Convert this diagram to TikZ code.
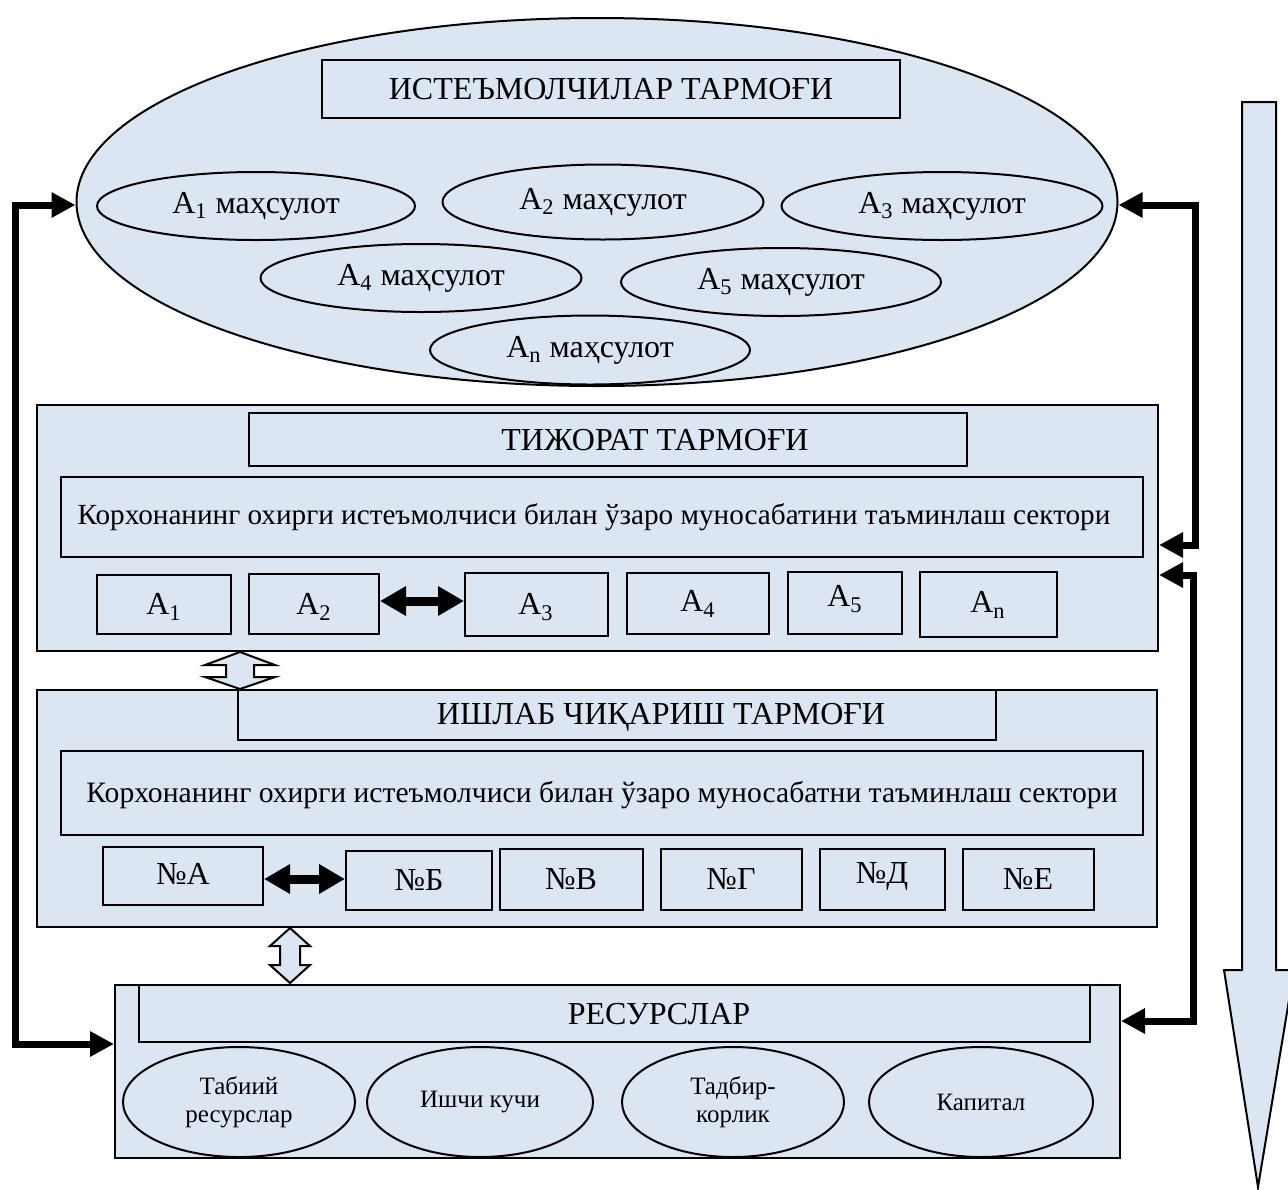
\documentclass[tikz,border=0pt]{standalone}
\usepackage{fontspec}
\setmainfont{Liberation Serif}
\usetikzlibrary{arrows.meta,shapes.geometric,fit}
\definecolor{lblue}{HTML}{DCE6F2}
\tikzset{
 base/.style={draw, fill=lblue, line width=1pt, inner sep=0pt},
 rbox/.style={base, rectangle},
 ell/.style={base, ellipse},
 txt/.style={font=\fontsize{16}{19}\selectfont, inner sep=0pt},
 subtxt/.style={font=\fontsize{#1}{18}\selectfont, inner sep=0pt},
 smalltxt/.style={font=\fontsize{12.5}{14}\selectfont, align=center},
 conn/.style={line width=3.5pt, line join=miter, {Triangle[length=12pt,width=12pt]}-{Triangle[length=12pt,width=12pt]}},
 dbl/.style={line width=4.5pt, {Triangle[length=13pt,width=14pt]}-{Triangle[length=13pt,width=14pt]}},
 hollow/.style={draw, fill=lblue, line width=1pt, line join=miter}
}
\begin{document}
\begin{tikzpicture}[x=0.5pt,y=-0.5pt]
\useasboundingbox (0,0) rectangle (1288,1189);

% big down arrow
\draw[hollow] (1242,102) -- (1276,102) -- (1276,970) -- (1294,970) -- (1258,1187) -- (1224,970) -- (1242,970) -- cycle;

% consumers ellipse
\node[ell, minimum width=520.5pt, minimum height=184pt] (cons) at (597,202) {};
\node[rbox, fit={(322,60)(900,118)}] (consT) {};
\node[txt] (consTl) at (consT.center) {ИСТЕЪМОЛЧИЛАР ТАРМОҒИ};
\node[ell, txt, minimum width=159pt, minimum height=34pt] (e1) at (256,206) {A\textsubscript{1} маҳсулот};
\node[ell, txt, minimum width=160.5pt, minimum height=37.5pt] (e2) at (603,202) {A\textsubscript{2} маҳсулот};
\node[ell, txt, minimum width=160.5pt, minimum height=34pt] (e3) at (942,206) {A\textsubscript{3} маҳсулот};
\node[ell, txt, minimum width=160.5pt, minimum height=34pt] (e4) at (421,278) {A\textsubscript{4} маҳсулот};
\node[ell, txt, minimum width=160pt, minimum height=34pt] (e5) at (781,282) {A\textsubscript{5} маҳсулот};
\node[ell, txt, minimum width=160pt, minimum height=34.5pt] (en) at (590,350) {A\textsubscript{n} маҳсулот};

% trade network
\node[rbox, fit={(37,405)(1158,651)}] (tij) {};
\node[rbox, fit={(249,413)(967,466)}] (tijT) {};
\node[txt] (tijTl) at (655,440) {ТИЖОРАТ ТАРМОҒИ};
\node[rbox, fit={(61,477)(1143,557)}] (tijS) {};
\node[subtxt=14.6] (tijSl) at (594,517) {Корхонанинг охирги истеъмолчиси билан ўзаро муносабатини таъминлаш сектори};
\node[rbox, fit={(97,575)(231,634)}] (a1) {};
\node[txt] at (164,607) {A\textsubscript{1}};
\node[rbox, fit={(249,574)(379,634)}] (a2) {};
\node[txt] at (314,607) {A\textsubscript{2}};
\node[rbox, fit={(465,573)(608,636)}] (a3) {};
\node[txt] at (536,607) {A\textsubscript{3}};
\node[rbox, fit={(627,573)(769,634)}] (a4) {};
\node[txt] at (698,604) {A\textsubscript{4}};
\node[rbox, fit={(788,572)(902,634)}] (a5) {};
\node[txt] at (845,599) {A\textsubscript{5}};
\node[rbox, fit={(920,572)(1057,637)}] (an) {};
\node[txt] at (988,605) {A\textsubscript{n}};
\draw[dbl] (a2.east |- 0,601) -- (a3.west |- 0,601);

% production network
\node[rbox, fit={(37,690)(1157,927)}] (ish) {};
\node[rbox, fit={(238,690)(996,740)}] (ishT) {};
\node[txt] (ishTl) at (661,717) {ИШЛАБ ЧИҚАРИШ ТАРМОҒИ};
\node[rbox, fit={(61,751)(1143,835)}] (ishS) {};
\node[subtxt=14.8] (ishSl) at (602,795) {Корхонанинг охирги истеъмолчиси билан ўзаро муносабатни таъминлаш сектори};
\node[rbox, fit={(103,847)(263,905)}] (nA) {};
\node[txt] at (183,874) {№A};
\node[rbox, fit={(346,851)(492,910)}] (nB) {};
\node[txt] at (419,880) {№Б};
\node[rbox, fit={(500,849)(643,910)}] (nV) {};
\node[txt] at (571,879) {№В};
\node[rbox, fit={(661,849)(802,910)}] (nG) {};
\node[txt] at (731,879) {№Г};
\node[rbox, fit={(820,849)(945,910)}] (nD) {};
\node[txt] at (882,876) {№Д};
\node[rbox, fit={(963,849)(1094,910)}] (nE) {};
\node[txt] at (1028,879) {№Е};
\draw[dbl] (nA.east |- 0,879) -- (nB.west |- 0,879);

% resources
\node[rbox, fit={(115,985)(1120,1158)}] (res) {};
\node[rbox, fit={(139,985)(1090,1042)}] (resT) {};
\node[txt] (resTl) at (659,1014) {РЕСУРСЛАР};
\node[ell, smalltxt, minimum width=116pt, minimum height=55pt] (r1) at (239,1102) {Табиий\\ресурслар};
\node[ell, smalltxt, minimum width=113pt, minimum height=55pt] (r2) at (480,1102) {Ишчи кучи};
\node[ell, smalltxt, minimum width=111pt, minimum height=55pt] (r3) at (733,1102) {Тадбир-\\корлик};
\node[ell, smalltxt, minimum width=112pt, minimum height=55pt] (r4) at (981,1102) {Капитал};

% hollow double arrows
\draw[hollow] (240,652) -- (275,665) -- (254,665) -- (254,677) -- (275,677) -- (240,689)
  -- (205,677) -- (226,677) -- (226,665) -- (205,665) -- cycle;
\draw[hollow] (290,928) -- (310,946) -- (300,946) -- (300,965) -- (310,965) -- (290,983)
  -- (270,965) -- (280,965) -- (280,946) -- (270,946) -- cycle;

% connectors
\coordinate (L1) at (15,205);
\coordinate (L2) at (15,1044);
\draw[conn] (cons.west |- L1) -- (L1) -- (L2) -- (L2 -| res.west);
\coordinate (R1) at (1195,205);
\coordinate (R2) at (1195,545);
\draw[conn] (cons.east |- R1) -- (R1) -- (R2) -- (R2 -| tij.east);
\coordinate (R3) at (1193,575);
\coordinate (R4) at (1193,1021);
\draw[conn] (R3 -| tij.east) -- (R3) -- (R4) -- (R4 -| res.east);
\end{tikzpicture}
\end{document}
